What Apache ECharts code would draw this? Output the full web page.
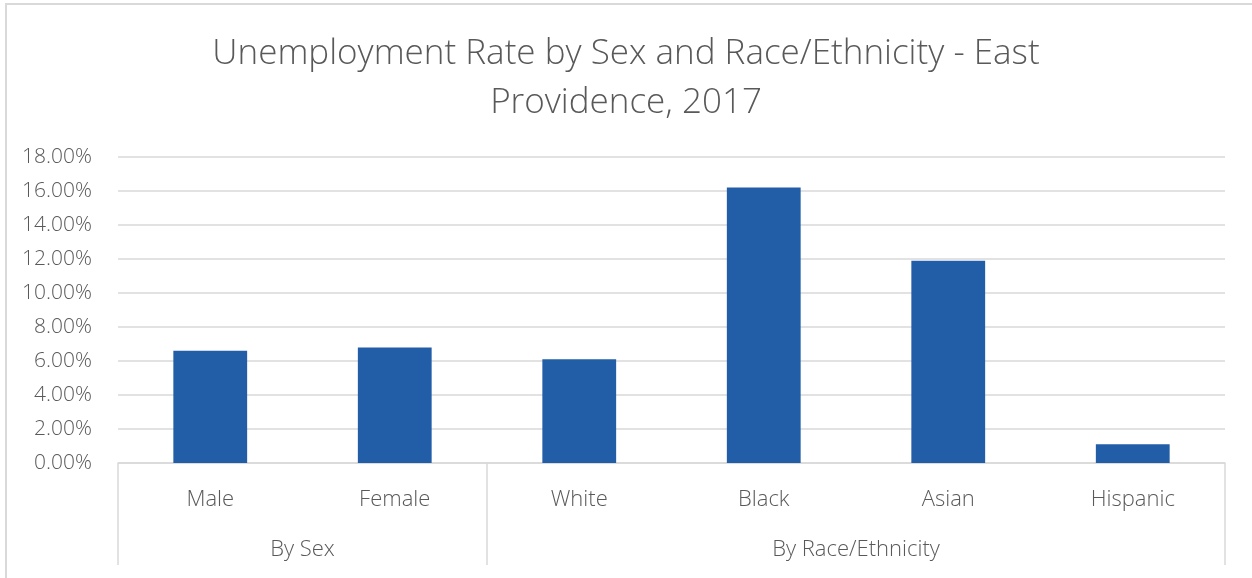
<!DOCTYPE html>
<html>
<head>
<meta charset="utf-8">
<style>
  html, body { margin: 0; padding: 0; background: #ffffff; }
  #chart { width: 1252px; height: 578px; }
</style>
<script src="https://cdn.jsdelivr.net/npm/echarts@6/dist/echarts.min.js"></script>
</head>
<body>
<div id="chart"></div>
<script>
// Unemployment rate (%) by group
const categories = ['Male', 'Female', 'White', 'Black', 'Asian', 'Hispanic'];
const rates = [6.6, 6.8, 6.1, 16.2, 11.9, 1.1];
// Outer level of the category axis: group names, their centres and boundaries (in category units)
const groupNames = ['By Sex', 'By Race/Ethnicity'];
const groupCenters = [1, 4];
const groupEdges = [0, 2, 6];

const FONT = '"Open Sans", "Noto Sans", sans-serif';
const GREY = '#595959';
const LINE = '#d9d9d9';

const chart = echarts.init(document.getElementById('chart'), null, { renderer: 'canvas' });

chart.setOption({
  animation: false,
  backgroundColor: '#ffffff',
  title: {
    text: 'Unemployment Rate by Sex and Race/Ethnicity - East\nProvidence, 2017',
    left: 'center',
    top: 25,
    textStyle: {
      fontFamily: FONT,
      fontWeight: 300,
      fontSize: 35,
      lineHeight: 49,
      color: GREY
    }
  },
  graphic: [{
    type: 'rect',
    shape: { x: 6, y: 4, width: 1300, height: 700 },
    style: { fill: 'none', stroke: LINE, lineWidth: 2 },
    silent: true,
    z: -1
  }],
  grid: { left: 118, right: 27, top: 157, bottom: 115, containLabel: false },
  xAxis: [{
    type: 'category',
    data: categories,
    position: 'bottom',
    axisLine: { show: true, lineStyle: { color: LINE, width: 1.5 } },
    axisTick: { show: false },
    axisLabel: { margin: 26, fontFamily: FONT, fontWeight: 300, fontSize: 22, color: GREY }
  }, {
    type: 'value',
    min: 0,
    max: categories.length,
    position: 'bottom',
    axisLine: { show: false },
    splitLine: { show: false },
    axisTick: {
      show: true,
      customValues: groupEdges,
      length: 102,
      lineStyle: { color: LINE, width: 1.5 }
    },
    axisLabel: {
      customValues: groupCenters,
      margin: 76,
      fontFamily: FONT,
      fontWeight: 300,
      fontSize: 22,
      color: GREY,
      formatter: function (v) { return groupNames[groupCenters.indexOf(v)]; }
    }
  }],
  yAxis: {
    type: 'value',
    min: 0,
    max: 18,
    interval: 2,
    axisLine: { show: false },
    axisTick: { show: false },
    splitLine: { lineStyle: { color: LINE, width: 1.5 } },
    axisLabel: {
      margin: 26,
      fontFamily: FONT,
      fontWeight: 300,
      fontSize: 21,
      color: GREY,
      formatter: function (v) { return v.toFixed(2) + '%'; }
    }
  },
  series: [{
    type: 'bar',
    xAxisIndex: 0,
    data: rates,
    barWidth: '40%',
    itemStyle: { color: '#225ea8' }
  }]
});
</script>
</body>
</html>
